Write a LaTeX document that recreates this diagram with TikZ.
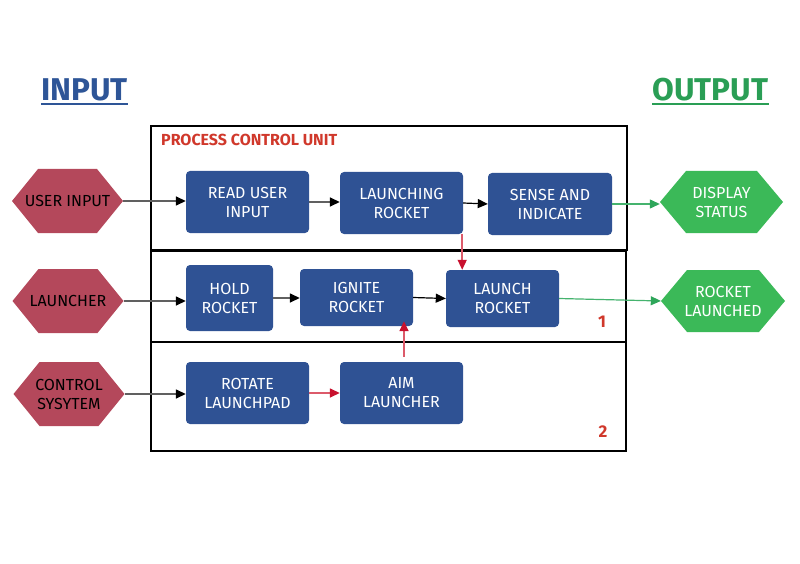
\documentclass[tikz,border=0pt]{standalone}
\usepackage{fontspec}
\setmainfont{Fira Sans}
\usetikzlibrary{arrows.meta}
\definecolor{boxblue}{HTML}{2F5294}
\definecolor{hexred}{HTML}{B4485B}
\definecolor{hexgreen}{HTML}{3BB958}
\definecolor{titleblue}{HTML}{2E5597}
\definecolor{titlegreen}{HTML}{2A9E55}
\definecolor{labred}{HTML}{D0382B}
\definecolor{linegray}{HTML}{606060}
\definecolor{linered}{HTML}{DC5A6A}
\definecolor{headred}{HTML}{C8102E}
\definecolor{linegreen}{HTML}{45B36E}
\definecolor{headgreen}{HTML}{2EA65A}
\tikzset{
  proc/.style={rectangle, rounded corners=4pt, fill=boxblue, text=white, align=center,
    font=\fontsize{16}{19}\selectfont, inner sep=0pt},
  hex/.style={rectangle, align=center, font=\fontsize{16}{19}\selectfont, inner sep=0pt,
    minimum width=111pt, minimum height=64pt,
    path picture={\fill[#1] (path picture bounding box.west)
      -- ([xshift=26pt]path picture bounding box.north west)
      -- ([xshift=-26pt]path picture bounding box.north east)
      -- (path picture bounding box.east)
      -- ([xshift=-26pt]path picture bounding box.south east)
      -- ([xshift=26pt]path picture bounding box.south west) -- cycle;}},
  frame/.style={draw=black, line width=1.5pt},
  gl/.style={draw=linegray, line width=1.5pt, -{Triangle[length=10pt,width=9pt,color=black]}},
  bl/.style={draw=black, line width=1.2pt, -{Triangle[length=10pt,width=9pt,color=black]}},
  rl/.style={draw=linered, line width=1.5pt, -{Triangle[length=10pt,width=9pt,color=headred]}},
  grl/.style={draw=linegreen, line width=1.2pt, -{Triangle[length=10pt,width=9pt,color=headgreen]}},
  title/.style={font=\fontsize{31.5}{36}\selectfont\bfseries, inner sep=0pt, anchor=base},
  lab/.style={text=labred, font=\fontsize{17}{19}\selectfont\bfseries, inner sep=0pt, anchor=base}
}
\begin{document}
\begin{tikzpicture}[x=1pt,y=-1pt]
\useasboundingbox (0,0) rectangle (800,564);
% titles
\node[title, text=titleblue] (tin) at (84.5,100.5) {INPUT};
\draw[titleblue, line width=2pt] ([yshift=-3.5pt]tin.base west) -- ([yshift=-3.5pt]tin.base east);
\node[title, text=titlegreen] (tout) at (710.5,100.5) {OUTPUT};
\draw[titlegreen, line width=2pt] ([yshift=-3.5pt]tout.base west) -- ([yshift=-3.5pt]tout.base east);
% frames
\draw[frame] (151,126) rectangle (627,250);
\draw[frame] (151,251) rectangle (626,342);
\draw[frame] (151,342) rectangle (626,451);
\node[lab, anchor=base west, font=\fontsize{16}{19}\selectfont\bfseries] (pcu) at (161,145.5) {PROCESS CONTROL UNIT};
\node[lab] (n1) at (602,327) {1};
\node[lab] (n2) at (603,437) {2};
% process boxes
\node[proc, minimum width=123pt, minimum height=62pt] (read) at (247.5,202) {READ USER\\INPUT};
\node[proc, minimum width=123pt, minimum height=62pt] (launching) at (401.5,203) {LAUNCHING\\ROCKET};
\node[proc, minimum width=124pt, minimum height=62pt] (sense) at (550,204) {SENSE AND\\INDICATE};
\node[proc, minimum width=87pt, minimum height=66pt] (hold) at (229.5,298) {HOLD\\ROCKET};
\node[proc, minimum width=113pt, minimum height=57pt] (ignite) at (356.5,297.5) {IGNITE\\ROCKET};
\node[proc, minimum width=113pt, minimum height=57pt] (launch) at (502.5,298.5) {LAUNCH\\ROCKET};
\node[proc, minimum width=123pt, minimum height=62pt] (rotate) at (247.5,393) {ROTATE\\LAUNCHPAD};
\node[proc, minimum width=123pt, minimum height=62pt] (aim) at (401.5,393) {AIM\\LAUNCHER};
% hexagons
\node[hex=hexred, text=black] (ui) at (67.5,201) {USER INPUT};
\node[hex=hexred, text=black] (lr) at (68,301) {LAUNCHER};
\node[hex=hexred, text=black] (cs) at (69,394) {CONTROL\\SYSYTEM};
\node[hex=hexgreen, text=white, minimum width=123pt, minimum height=62pt] (ds) at (721.5,202) {DISPLAY\\STATUS};
\node[hex=hexgreen, text=white, minimum width=124pt, minimum height=62pt] (rl) at (723,301) {ROCKET\\LAUNCHED};
% connectors
\draw[gl] (ui.east) -- (ui.east -| read.west);
\draw[gl] (read.east) -- (read.east -| launching.west);
\draw[bl] (launching.east) -- (sense.west);
\draw[grl] (sense.east) -- (sense.east -| ds.west);
\draw[rl] ([xshift=-1pt]launching.south east) -- ([xshift=-1pt]launching.south east |- launch.north);
\draw[gl] (lr.east) -- (lr.east -| hold.west);
\draw[gl] (hold.east) -- (hold.east -| ignite.west);
\draw[bl] (ignite.east) -- (launch.west);
\draw[grl] (launch.east) -- (rl.west);
\draw[gl] (cs.east) -- (cs.east -| rotate.west);
\draw[rl] (rotate.east) -- (aim.west);
\draw[rl] ([xshift=2.5pt,yshift=5pt]aim.north) -- ([xshift=2.5pt,yshift=5pt]aim.north |- ignite.south);
\end{tikzpicture}
\end{document}
